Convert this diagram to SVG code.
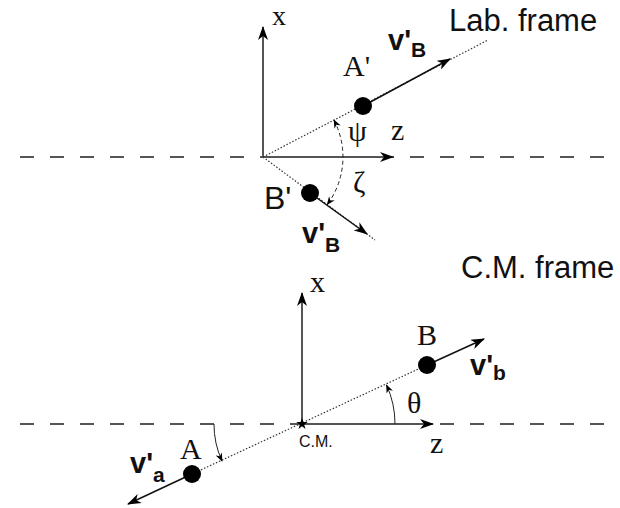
<svg xmlns="http://www.w3.org/2000/svg" width="620" height="508" viewBox="0 0 620 508">
<defs>
<marker id="ah" viewBox="0 0 14 10" refX="13" refY="5" markerWidth="14" markerHeight="10" markerUnits="userSpaceOnUse" orient="auto">
<path d="M0,0 L14,5 L0,10 L4,5 Z" fill="#000"/>
</marker>
<marker id="ahs" viewBox="0 0 10 8" refX="9" refY="4" markerWidth="9" markerHeight="7" markerUnits="userSpaceOnUse" orient="auto">
<path d="M0,0 L10,4 L0,8 L3,4 Z" fill="#000"/>
</marker>
<marker id="ahsr" viewBox="0 0 10 8" refX="1" refY="4" markerWidth="9" markerHeight="7" markerUnits="userSpaceOnUse" orient="auto">
<path d="M10,0 L0,4 L10,8 L7,4 Z" fill="#000"/>
</marker>
</defs>
<style>
.dash{stroke:#555;stroke-width:2;stroke-dasharray:14,16;fill:none}
.axis{stroke:#555;stroke-width:2;fill:none;marker-end:url(#ah)}
.dot{stroke:#333;stroke-width:1.2;stroke-dasharray:1.5,1.8;fill:none}
.vel{stroke:#111;stroke-width:1.5;fill:none;marker-end:url(#ah)}
.arc{stroke:#222;stroke-width:1;fill:none}
.pt{fill:#000}
.ser{font-family:"Liberation Serif","Times New Roman",serif;fill:#111;font-size:30px}
.san{font-family:"Liberation Sans",Arial,sans-serif;fill:#111}
.bold{font-family:"Liberation Sans",Arial,sans-serif;font-weight:bold;fill:#111;font-size:29px}
.sub{font-size:21px}
</style>
<rect width="620" height="508" fill="#fff"/>
<g id="connectors">
<line class="dash" x1="20" y1="157" x2="620" y2="157"/>
<line class="dash" x1="20" y1="424" x2="620" y2="424"/>
<line class="axis" x1="263" y1="157" x2="263" y2="27"/>
<line class="axis" x1="263" y1="157" x2="393" y2="157"/>
<line class="dot" x1="263" y1="157" x2="488" y2="40"/>
<line class="dot" x1="263" y1="157" x2="375" y2="240"/>
<line class="vel" x1="363" y1="106" x2="450" y2="59"/>
<line class="vel" x1="310" y1="193" x2="367" y2="234"/>
<path class="arc" d="M334,120.1 A80,80 0 0 1 327.2,204.6" stroke-dasharray="4,3" marker-start="url(#ahsr)" marker-end="url(#ahs)"/>
<line class="axis" x1="302" y1="424" x2="302" y2="293"/>
<line class="axis" x1="302" y1="424" x2="433" y2="424"/>
<line class="dot" x1="192" y1="474" x2="427" y2="365"/>
<line class="vel" x1="427" y1="365" x2="484" y2="339"/>
<line class="vel" x1="192" y1="474" x2="128" y2="504"/>
<path class="arc" d="M395,424 A93,93 0 0 0 386.5,385" marker-end="url(#ahs)"/>
<path class="arc" d="M214,424 A88,88 0 0 0 222,461" marker-end="url(#ahs)"/>
</g>
<g id="lab-origin"><text class="ser" x="272" y="25" font-size="28" style="font-size:28px">x</text><text class="ser" x="391" y="140">z</text></g>
<g id="node-A-prime"><circle class="pt" cx="363" cy="106" r="9"/><text class="ser" x="343" y="76">A'</text></g>
<g id="node-B-prime"><circle class="pt" cx="310" cy="193" r="9"/><text class="san" x="264" y="209" font-size="32">B'</text></g>
<g id="label-vB-top"><text class="bold" x="388" y="50">v'<tspan class="sub" dy="7">B</tspan></text></g>
<g id="label-vB-bottom"><text class="bold" x="302" y="243">v'<tspan class="sub" dy="9">B</tspan></text></g>
<g id="label-psi"><text class="ser" x="348" y="141">ψ</text></g>
<g id="label-zeta"><text class="ser" x="353" y="192">ζ</text></g>
<g id="title-lab"><text class="san" x="449" y="31" font-size="31">Lab. frame</text></g>
<g id="title-cm"><text class="san" x="461" y="278" font-size="31">C.M. frame</text></g>
<g id="cm-origin"><path class="pt" d="M302,418 L303.4,422.1 L307.7,422.1 L304.2,424.7 L305.5,428.9 L302,426.3 L298.5,428.9 L299.8,424.7 L296.3,422.1 L300.6,422.1 Z"/><text class="san" x="299" y="447" font-size="16">C.M.</text><text class="ser" x="310" y="292">x</text><text class="ser" x="430" y="453">z</text></g>
<g id="node-B"><circle class="pt" cx="427" cy="365" r="9"/><text class="ser" x="417" y="345">B</text></g>
<g id="node-A"><circle class="pt" cx="192" cy="474" r="9"/><text class="ser" x="180" y="459">A</text></g>
<g id="label-vb"><text class="bold" x="470" y="375">v'<tspan class="sub" dy="5">b</tspan></text></g>
<g id="label-va"><text class="bold" x="130" y="473">v'<tspan class="sub" dy="9">a</tspan></text></g>
<g id="label-theta"><text class="ser" x="407" y="413">θ</text></g>
</svg>
